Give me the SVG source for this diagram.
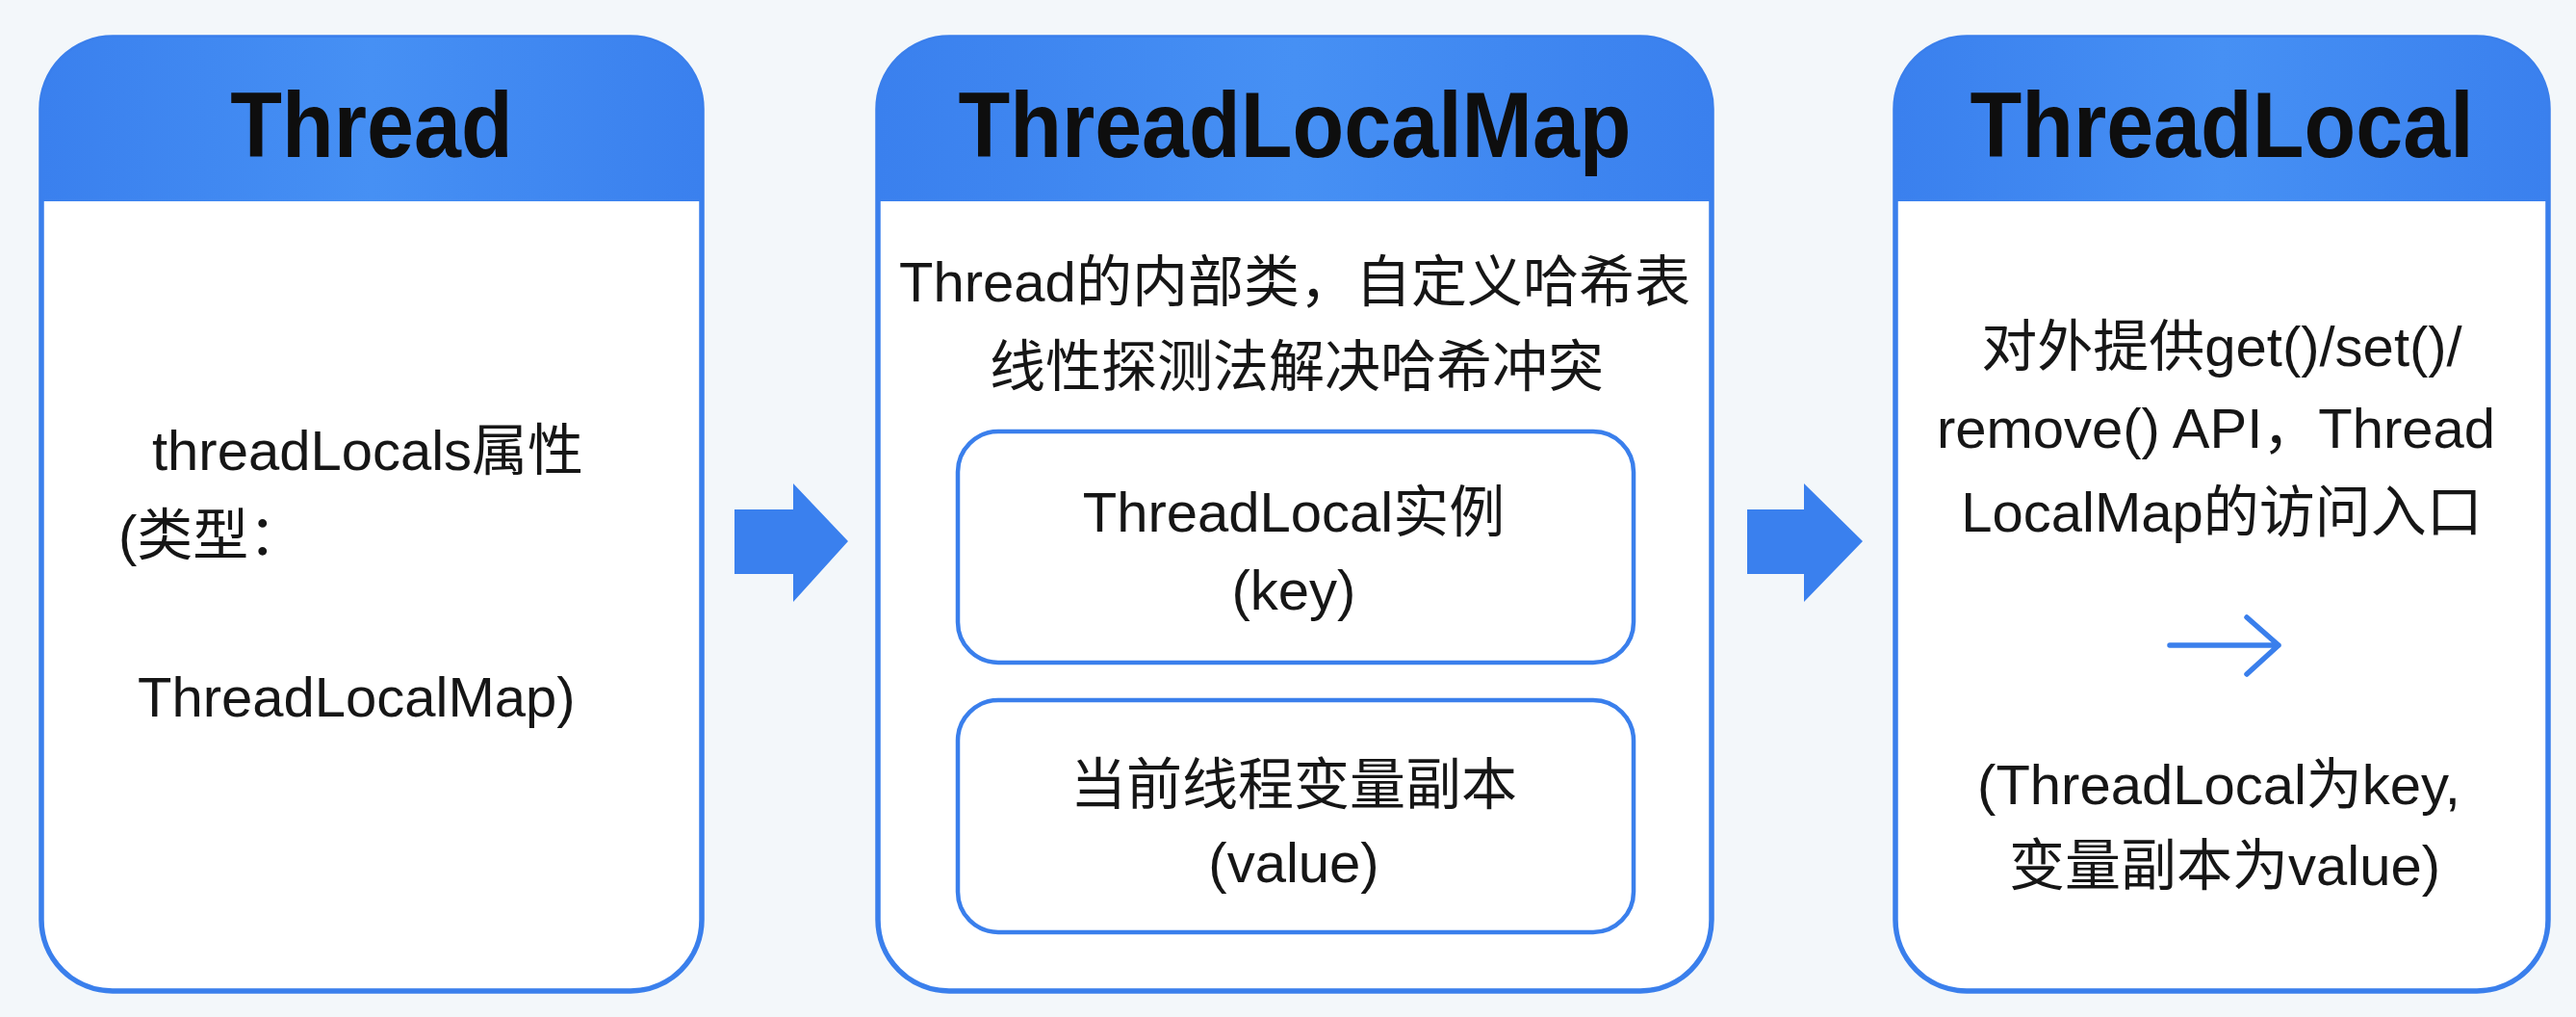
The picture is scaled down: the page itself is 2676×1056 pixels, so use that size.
<svg xmlns="http://www.w3.org/2000/svg" width="2676" height="1056" viewBox="0 0 2676 1056">
<defs>
<linearGradient id="hdr" x1="0" y1="0" x2="1" y2="0">
<stop offset="0" stop-color="#3A80EE"/>
<stop offset="0.5" stop-color="#4690F4"/>
<stop offset="1" stop-color="#3A80EE"/>
</linearGradient>
<style>
.box{fill:#FFFFFF;stroke:#3A7FEC;stroke-width:5.5}
.inner{fill:#FFFFFF;stroke:#3A7FEC;stroke-width:4.5}
.hdr{fill:url(#hdr)}
.title{font-family:"Liberation Sans","Noto Sans CJK SC",sans-serif;font-weight:bold;font-size:88px;fill:#0E0E0E;text-anchor:middle}
.t{font-family:"Liberation Sans","Noto Sans CJK SC",sans-serif;font-size:58px;fill:#161616}
.c{text-anchor:middle}
.arrow{fill:#3A80EE}
</style>
</defs>
<rect x="0" y="0" width="2676" height="1056" fill="#F3F7FA"/>

<g id="node-thread">
<rect class="box" x="43" y="39" width="686" height="990" rx="74"/>
<path class="hdr" d="M43,113 A74,74 0 0 1 117,39 H655 A74,74 0 0 1 729,113 V209 H43 Z"/>
<text class="title" transform="translate(386,163) scale(1,1.1)">Thread</text>
<text class="t" x="158" y="488">threadLocals属性</text>
<text class="t" x="123" y="576">(类型：</text>
<text class="t" x="143" y="744">ThreadLocalMap)</text>
</g>

<g id="node-threadlocalmap">
<rect class="box" x="912" y="39" width="866" height="990" rx="74"/>
<path class="hdr" d="M912,113 A74,74 0 0 1 986,39 H1704 A74,74 0 0 1 1778,113 V209 H912 Z"/>
<text class="title" transform="translate(1345,163) scale(1,1.1)">ThreadLocalMap</text>
<text class="t c" x="1345" y="313">Thread的内部类，自定义哈希表</text>
<text class="t c" x="1347" y="401">线性探测法解决哈希冲突</text>
<g id="node-key">
<rect class="inner" x="995" y="448" width="702" height="240" rx="42"/>
<text class="t c" x="1344" y="552">ThreadLocal实例</text>
<text class="t c" x="1344" y="633">(key)</text>
</g>
<g id="node-value">
<rect class="inner" x="995" y="727" width="702" height="241" rx="42"/>
<text class="t c" x="1344" y="835">当前线程变量副本</text>
<text class="t c" x="1344" y="916">(value)</text>
</g>
</g>

<g id="node-threadlocal">
<rect class="box" x="1969" y="39" width="678" height="990" rx="74"/>
<path class="hdr" d="M1969,113 A74,74 0 0 1 2043,39 H2573 A74,74 0 0 1 2647,113 V209 H1969 Z"/>
<text class="title" transform="translate(2308,163) scale(1,1.1)">ThreadLocal</text>
<text class="t c" x="2308" y="380">对外提供get()/set()/</text>
<text class="t c" x="2302" y="465">remove() API，Thread</text>
<text class="t c" x="2308" y="552">LocalMap的访问入口</text>
<path d="M2254,670 H2367 M2334,641 L2367,670 L2334,700" fill="none" stroke="#3A7FEC" stroke-width="5.5" stroke-linecap="round" stroke-linejoin="round"/>
<text class="t c" x="2305" y="835">(ThreadLocal为key,</text>
<text class="t c" x="2311" y="919">变量副本为value)</text>
</g>

<g id="connectors">
<path class="arrow" d="M763,529 H824 V502 L881,562 L824,625 V596 H763 Z"/>
<path class="arrow" d="M1815,529 H1874 V502 L1935,562 L1874,625 V596 H1815 Z"/>
</g>
</svg>
